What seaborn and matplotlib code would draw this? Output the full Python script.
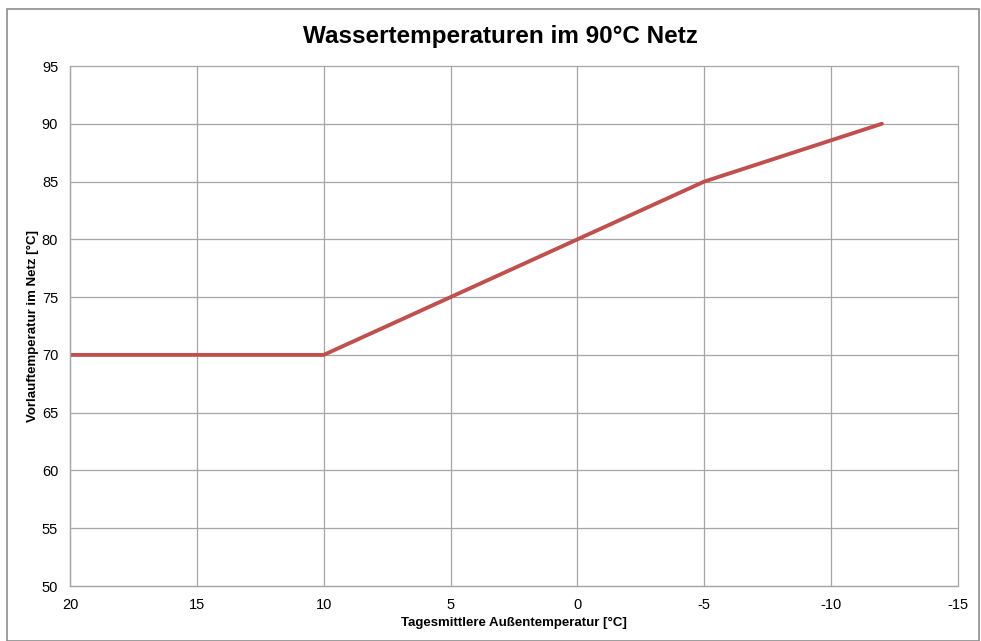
import matplotlib
matplotlib.use("Agg")
import matplotlib.pyplot as plt
import seaborn as sns
import pandas as pd
from matplotlib.patches import Rectangle

# data
aussentemp = [20, 10, -5, -12]
vorlauf = [70, 70, 85, 90]
x_ticks = [20, 15, 10, 5, 0, -5, -10, -15]
y_ticks = [50, 55, 60, 65, 70, 75, 80, 85, 90, 95]

df = pd.DataFrame({'aussen': aussentemp, 'vorlauf': vorlauf})

sns.set_style("white")
plt.rcParams['font.family'] = ['Liberation Sans', 'DejaVu Sans']
plt.rcParams['axes.unicode_minus'] = False
plt.rcParams['text.color'] = 'black'
plt.rcParams['axes.labelcolor'] = 'black'

fig = plt.figure(figsize=(9.81, 6.41), dpi=100)
ax = fig.add_axes([70/981, 55/641, 888/981, 520/641])

# outer chart border
fig.patches.append(Rectangle((7/981, 0.0), 972/981, 632/641, transform=fig.transFigure,
                             fill=False, edgecolor='#8c8c8c', linewidth=1.2))

sns.lineplot(data=df, x='aussen', y='vorlauf', ax=ax, color='#C0504D', linewidth=2.8,
             estimator=None, sort=False)

ax.set_xlim(20, -15)
ax.set_ylim(50, 95)
ax.set_xticks(x_ticks)
ax.set_yticks(y_ticks)
ax.grid(True, color='#a6a6a6', linewidth=0.9)
ax.set_axisbelow(True)
for line in ax.get_xgridlines() + ax.get_ygridlines():
    line.set_clip_on(False)
for side in ['top', 'right']:
    ax.spines[side].set_visible(False)
for side in ['left', 'bottom']:
    ax.spines[side].set_color('#a6a6a6')
    ax.spines[side].set_linewidth(0.9)
ax.tick_params(axis='both', which='both', length=5, width=0.9, color='#a6a6a6',
               labelsize=10.5, labelcolor='black', direction='out')

ax.set_xlabel('Tagesmittlere Außentemperatur [°C]', fontsize=9.5, fontweight='bold', labelpad=4)
ax.set_ylabel('Vorlauftemperatur im Netz [°C]', fontsize=9.5, fontweight='bold', labelpad=2)
fig.suptitle('Wassertemperaturen im 90°C Netz', x=500/981, y=1 - 36/641, va='center',
             fontsize=17.5, fontweight='bold', color='black')

fig.savefig('out.png', dpi=100)
